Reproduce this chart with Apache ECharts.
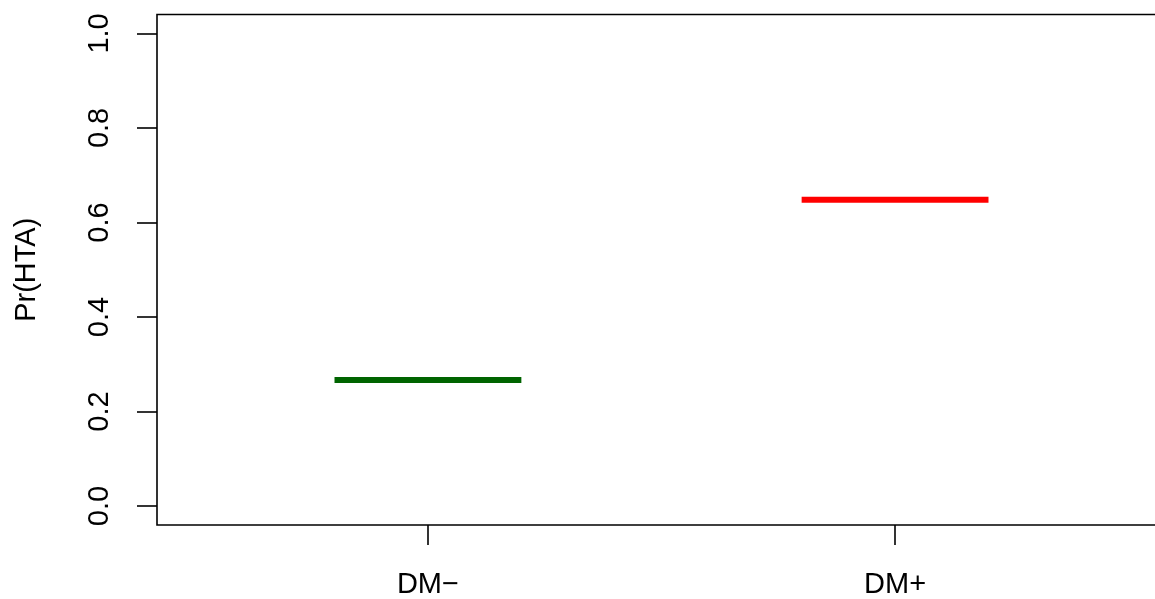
<!DOCTYPE html>
<html>
<head>
<meta charset="utf-8">
<script src="https://cdn.jsdelivr.net/npm/echarts@6/dist/echarts.min.js"></script>
<style>
  html, body { margin: 0; padding: 0; background: #fff; overflow: hidden; width: 1155px; height: 599px; }
  #chart { width: 1180px; height: 599px; }
</style>
</head>
<body>
<div id="chart"></div>
<script>
// Groups and their estimated probability of HTA
const groups = ['DM\u2212', 'DM+'];
const groupPos = [1, 2];
const prHTA = [0.267, 0.648];
const groupColors = ['#006400', '#ff0000'];
const yTicks = [0, 0.2, 0.4, 0.6, 0.8, 1.0];
const halfWidth = 0.2;

const font = '"Liberation Sans", Arial, Helvetica, sans-serif';

const series = groups.map((g, i) => ({
  name: g,
  type: 'line',
  data: [[groupPos[i] - halfWidth, prHTA[i]], [groupPos[i] + halfWidth, prHTA[i]]],
  symbol: 'none',
  lineStyle: { color: groupColors[i], width: 6, cap: 'butt' },
  silent: true,
  animation: false
}));

const chart = echarts.init(document.getElementById('chart'), null, { renderer: 'canvas' });
chart.setOption({
  animation: false,
  backgroundColor: '#ffffff',
  grid: {
    left: 157, top: 14.5, width: 1009, height: 510.5,
    show: true, borderColor: '#000', borderWidth: 1.6, backgroundColor: 'transparent',
    containLabel: false
  },
  xAxis: {
    type: 'value', min: 0.42, max: 2.58,
    axisLine: { show: false, onZero: false },
    splitLine: { show: false },
    axisTick: {
      show: true, length: 20, customValues: groupPos,
      lineStyle: { color: '#000', width: 1.6 }
    },
    axisLabel: {
      show: true, customValues: groupPos, margin: 45,
      fontFamily: font, fontSize: 29, color: '#000',
      formatter: v => groups[groupPos.indexOf(Math.round(v))] || ''
    }
  },
  yAxis: {
    type: 'value', min: -0.04, max: 1.04,
    name: 'Pr(HTA)', nameLocation: 'middle', nameRotate: 90, nameGap: 116,
    nameTextStyle: { fontFamily: font, fontSize: 29, color: '#000' },
    axisLine: { show: false, onZero: false },
    splitLine: { show: false },
    axisTick: {
      show: true, length: 20, customValues: yTicks,
      lineStyle: { color: '#000', width: 1.6 }
    },
    axisLabel: {
      show: true, customValues: yTicks, rotate: 90, margin: 43,
      fontFamily: font, fontSize: 29, color: '#000',
      formatter: v => v.toFixed(1)
    }
  },
  series: series
});
</script>
</body>
</html>
